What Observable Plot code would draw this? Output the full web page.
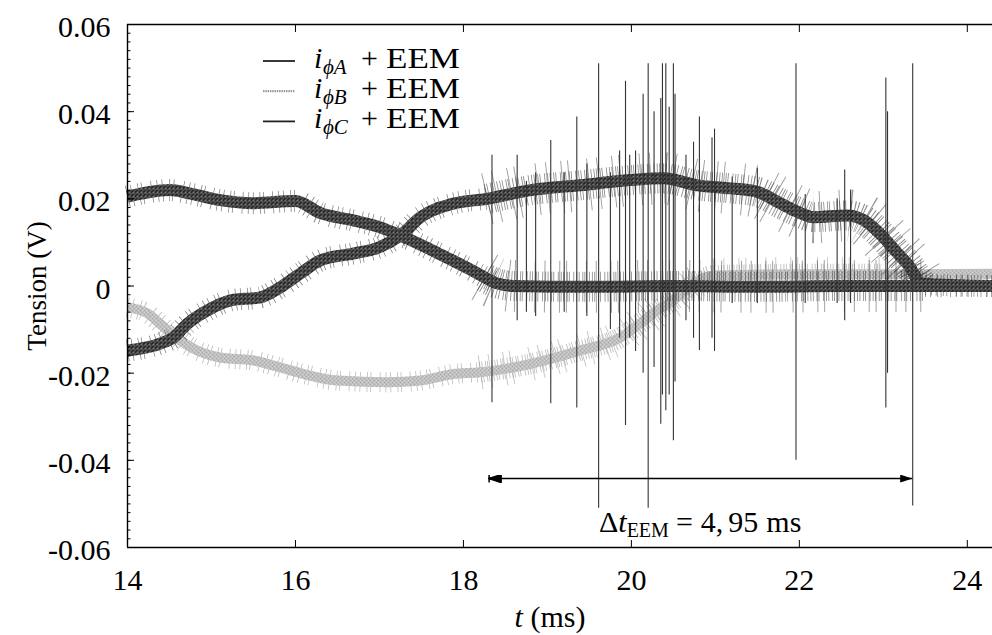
<!DOCTYPE html>
<html><head><meta charset="utf-8">
<script src="https://cdn.jsdelivr.net/npm/d3@7"></script>
<script src="https://cdn.jsdelivr.net/npm/@observablehq/plot@0.6"></script>
<style>
html,body{margin:0;padding:0;background:#fff;}
svg{display:block;}
svg text{font-family:"Liberation Serif","Times New Roman","DejaVu Serif",serif !important;}
</style></head><body><div id="chart"></div>
<script>
// ---- data ----
const tA = [14.0, 14.25, 14.5, 14.75, 15.1, 15.5, 16.0, 16.3, 16.7, 17.0, 17.25, 17.7, 18.1, 18.25, 18.4, 18.6, 19.5, 20.5, 21.5, 22.5, 23.5, 24.3];
const vA = [0.0205, 0.0215, 0.022, 0.0212, 0.0197, 0.019, 0.0195, 0.0167, 0.015, 0.0135, 0.0116, 0.0075, 0.0036, 0.002, 0.0006, 0.0, -0.0002, 0.0, -0.0002, 0.0, 0.0, 0.0];

const tB = [14.0, 14.24, 14.39, 14.58, 14.83, 15.1, 15.5, 15.82, 16.1, 16.5, 17.1, 17.49, 17.88, 18.2, 18.79, 19.39, 19.87, 20.07, 20.31, 20.5, 20.8, 21.0, 22.0, 23.0, 24.3];
const vB = [-0.0049, -0.0063, -0.0087, -0.0118, -0.0148, -0.0164, -0.0171, -0.0187, -0.0202, -0.0217, -0.0221, -0.0217, -0.0202, -0.0198, -0.0179, -0.0148, -0.0118, -0.0091, -0.0056, -0.0033, 0.0013, 0.0024, 0.0027, 0.0027, 0.0028];

const tC = [14.0, 14.39, 14.55, 14.71, 14.95, 15.23, 15.58, 15.82, 16.06, 16.3, 16.7, 17.0, 17.25, 17.49, 17.88, 18.28, 18.8, 19.39, 19.99, 20.38, 20.79, 21.18, 21.5, 21.77, 21.98, 22.17, 22.57, 22.77, 22.96, 23.17, 23.32, 23.45, 24.3];
const vC = [-0.0148, -0.0132, -0.0118, -0.0087, -0.0056, -0.0033, -0.0026, -0.0003, 0.0029, 0.0059, 0.0075, 0.0089, 0.0116, 0.0158, 0.0189, 0.020, 0.022, 0.0231, 0.0243, 0.0247, 0.0231, 0.0224, 0.0216, 0.019, 0.017, 0.0158, 0.0162, 0.0151, 0.012, 0.0075, 0.0043, 0.0005, 0.0];

// interference spikes: time, top, bottom
const spikeT  = [18.34, 18.64, 18.75, 18.86, 19.04, 19.20, 19.35, 19.47, 19.61, 19.75, 19.86, 19.93, 19.98, 20.05, 20.14, 20.20, 20.27, 20.35, 20.37, 20.41, 20.45, 20.50, 20.52, 20.65, 20.74, 20.81, 20.96, 20.99, 21.20, 21.50, 21.96, 22.07, 22.45, 22.54, 22.61, 23.03, 23.05, 23.35];
const spikeHi = [0.030, 0.030, 0.024, 0.026, 0.0334, 0.026, 0.0388, 0.028, 0.051, 0.026, 0.031, 0.047, 0.030, 0.031, 0.044, 0.051, 0.040, 0.043, 0.051, 0.051, 0.041, 0.051, 0.044, 0.030, 0.033, 0.0388, 0.034, 0.036, 0.025, 0.027, 0.051, 0.021, 0.020, 0.0266, 0.022, 0.0477, 0.040, 0.051];
const spikeLo = [-0.0268, -0.008, -0.006, -0.007, -0.027, -0.006, -0.028, -0.007, -0.051, -0.010, -0.012, -0.032, -0.012, -0.015, -0.020, -0.051, -0.0187, -0.0317, -0.025, -0.0286, -0.025, -0.0355, -0.022, -0.008, -0.012, -0.0148, -0.012, -0.015, -0.004, -0.004, -0.040, -0.004, -0.004, -0.008, -0.004, -0.028, -0.020, -0.0505];

const xTicks = [14, 16, 18, 20, 22, 24];
const yTicks = [-0.06, -0.04, -0.02, 0, 0.02, 0.04, 0.06];
const yTickLabels = ["-0.06", "-0.04", "-0.02", "0", "0.02", "0.04", "0.06"];
const yMinor = d3.range(-30, 31).map(k => k * 0.002);

const legendPhase = ["A", "B", "C"];
const arrowT = [18.3, 23.35];
const arrowV = -0.0443;
const xLabel = "t (ms)";
const yLabel = "Tension (V)";

// ---- build ----
const FONT = "Liberation Serif, Times New Roman, DejaVu Serif, serif";
const A = tA.map((t, i) => ({t, v: vA[i]}));
const B = tB.map((t, i) => ({t, v: vB[i]}));
const C = tC.map((t, i) => ({t, v: vC[i]}));
const spikes = spikeT.map((t, i) => ({t, hi: spikeHi[i], lo: spikeLo[i]}));
const early = d => d.t <= 18.45;
const busy = d => d.t >= 18.2 && d.t <= 23.5;
const late = d => d.t >= 23.3;

const hair1 = "0.7 4.1 0.7 6.3 0.7 2.9 0.7 8.6 0.7 5.2";
const hair2 = "0.8 1.6 0.8 2.9 0.8 1.2 0.8 3.7 0.8 2.2";
const hair3 = "0.9 9 0.9 14 0.9 6 0.9 19";

function bandMarks(D, base, tex, w, k) {
  const common = {x: "t", y: "v", curve: "monotone-x", stroke: base, strokeLinecap: "butt", strokeLinejoin: "miter"};
  return [
    Plot.line(D.filter(early), {...common, strokeWidth: w + 10, strokeDasharray: hair1, strokeOpacity: 0.65}),
    Plot.line(D.filter(late), {...common, strokeWidth: w + 10, strokeDasharray: hair1, strokeOpacity: 0.65}),
    Plot.line(D.filter(busy), {...common, strokeWidth: w + 18 * k, strokeDasharray: hair2, strokeOpacity: 0.6}),
    Plot.line(D.filter(busy), {...common, strokeWidth: w + 40 * k, strokeDasharray: hair3, strokeOpacity: 0.5}),
    Plot.line(D, {x: "t", y: "v", curve: "monotone-x", stroke: tex, strokeWidth: w, strokeLinecap: "butt"})
  ];
}

const plot = Plot.plot({
  width: 992, height: 635,
  marginTop: 24, marginBottom: 88, marginLeft: 127, marginRight: 0,
  style: {fontFamily: FONT, fontSize: "30px", color: "#000", background: "#fff"},
  x: {domain: [14, 24.3]},
  y: {domain: [-0.06, 0.06]},
  marks: [
    ...bandMarks(B, "#8a8a8a", "url(#texB)", 10, 0.6),
    ...bandMarks(C, "#333", "url(#texA)", 12, 1),
    ...bandMarks(A, "#333", "url(#texA)", 12, 1),
    Plot.ruleX(spikes, {x: "t", y1: "lo", y2: "hi", stroke: "#333", strokeWidth: 1.1}),
    // frame (left, top, bottom)
    Plot.ruleY([-0.06, 0.06], {stroke: "#000", strokeWidth: 1.4}),
    Plot.ruleX([14], {stroke: "#000", strokeWidth: 1.4}),
    // axes
    Plot.axisY(yTicks, {anchor: "left", tickSize: 0, tickPadding: 17, dy: 3, tickFormat: d => yTickLabels[yTicks.indexOf(d)], label: null, fontSize: 30, fontFamily: FONT}),
    Plot.axisY(yTicks, {anchor: "left", tickSize: -7, tickFormat: () => "", label: null}),
    Plot.axisY(yMinor, {anchor: "left", tickSize: -3.5, tickFormat: () => "", label: null}),
    Plot.axisX(xTicks, {anchor: "bottom", tickSize: 0, tickPadding: 21, tickFormat: d => String(d), label: null, fontSize: 30, fontFamily: FONT}),
    Plot.axisX(xTicks, {anchor: "bottom", tickSize: -7, tickFormat: () => "", label: null}),
    Plot.axisX(xTicks, {anchor: "top", tickSize: -7, tickFormat: () => "", label: null}),
    Plot.text([yLabel], {frameAnchor: "left", dx: -90, rotate: -90, text: d => d, textAnchor: "middle", lineAnchor: "middle", fontSize: 27, fontFamily: FONT}),
    Plot.text([xLabel], {frameAnchor: "bottom", dy: 70, dx: -10, text: d => d, lineAnchor: "middle", fontSize: 30, fontFamily: FONT})
  ]
});

const svg = d3.select(plot);
svg.insert("defs", ":first-child").html(`
  <pattern id="texA" width="4" height="4" patternUnits="userSpaceOnUse">
    <rect width="4" height="4" fill="#2a2a2a"/>
    <rect x="0" y="0" width="1" height="1" fill="#c4c4c4"/>
    <rect x="2" y="1" width="1" height="1" fill="#b0b0b0"/>
    <rect x="1" y="3" width="1" height="1" fill="#c4c4c4"/>
  </pattern>
  <pattern id="texB" width="4" height="4" patternUnits="userSpaceOnUse">
    <rect width="4" height="4" fill="#d4d4d4"/>
    <rect x="1" y="0" width="1" height="1" fill="#7a7a7a"/>
    <rect x="3" y="1" width="1" height="1" fill="#8a8a8a"/>
    <rect x="0" y="2" width="1" height="1" fill="#7a7a7a"/>
    <rect x="2" y="3" width="1" height="1" fill="#8a8a8a"/>
  </pattern>
  <marker id="headR" viewBox="0 0 12 8" refX="12" refY="4" markerWidth="12" markerHeight="8" markerUnits="userSpaceOnUse" orient="auto">
    <path d="M0,0L12,4L0,8Z" fill="#000"/>
  </marker>
  <marker id="headL" viewBox="0 0 14 8" refX="0" refY="4" markerWidth="14" markerHeight="8" markerUnits="userSpaceOnUse" orient="auto">
    <path d="M1,0V8M1,4L13,0L13,8Z" fill="#000" stroke="#000" stroke-width="1.5"/>
  </marker>`);

// x label: italic t
svg.selectAll("text").filter(function() { return this.textContent === xLabel; }).each(function() {
  const t = d3.select(this); t.text("");
  t.append("tspan").attr("font-style", "italic").text("t");
  t.append("tspan").text(" (ms)");
});

const sx = plot.scale("x"), sy = plot.scale("y");
// annotation arrow
svg.append("line")
  .attr("x1", sx.apply(arrowT[0])).attr("x2", sx.apply(arrowT[1]))
  .attr("y1", sy.apply(arrowV)).attr("y2", sy.apply(arrowV))
  .attr("stroke", "#000").attr("stroke-width", 1.5)
  .attr("marker-start", "url(#headL)").attr("marker-end", "url(#headR)");
const ann = svg.append("text")
  .attr("x", (sx.apply(arrowT[0]) + sx.apply(arrowT[1])) / 2)
  .attr("y", sy.apply(arrowV) + 53)
  .attr("text-anchor", "middle").attr("font-size", 30);
ann.append("tspan").text("Δ");
ann.append("tspan").attr("font-style", "italic").text("t");
ann.append("tspan").attr("font-size", 20).attr("dy", 5).text("EEM");
ann.append("tspan").attr("dy", -5).attr("dx", 7).text("=");
ann.append("tspan").attr("dx", 8).text("4,");
ann.append("tspan").attr("dx", 5).text("95");
ann.append("tspan").attr("dx", 8).text("ms");

// legend
const legStroke = ["#222", "#9a9a9a", "#222"];
const leg = svg.append("g").attr("font-size", 30).attr("text-anchor", "start");
legendPhase.forEach((p, i) => {
  const y = 58 + i * 30.2;
  leg.append("line").attr("x1", 263).attr("x2", 295).attr("y1", y + 3).attr("y2", y + 3)
    .attr("stroke", legStroke[i]).attr("stroke-width", i === 1 ? 2.2 : 1.8)
    .attr("stroke-dasharray", i === 1 ? "1.5 0.8" : null);
  const t = leg.append("text").attr("y", y + 10).attr("text-anchor", "start");
  t.append("tspan").attr("x", 314).attr("font-style", "italic").text("i");
  t.append("tspan").attr("x", 323).attr("font-size", 21).attr("dy", 6).attr("font-style", "italic").text("ϕ" + p);
  t.append("tspan").attr("x", 361).attr("dy", -6).text("+");
  t.append("tspan").attr("x", 386).attr("textLength", 74).attr("lengthAdjust", "spacingAndGlyphs").text("EEM");
});

document.getElementById("chart").appendChild(plot);
</script>
</body></html>
